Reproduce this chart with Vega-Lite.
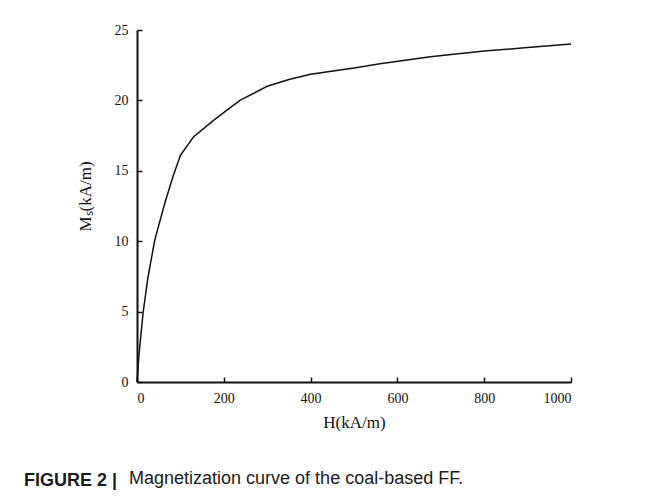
{
  "$schema": "https://vega.github.io/schema/vega-lite/v6.json",
  "autosize": {"type": "none"},
  "width": 434,
  "height": 352,
  "padding": {"left": 137, "top": 30, "right": 80, "bottom": 116},
  "background": "white",
  "title": {
    "text": "FIGURE 2 |",
    "subtitle": "\u200b\u00a0\u00a0\u00a0\u00a0\u00a0\u00a0\u00a0\u00a0\u00a0\u00a0\u00a0\u00a0\u00a0\u00a0\u00a0\u00a0\u00a0\u00a0\u00a0\u00a0\u00a0Magnetization curve of the coal-based FF.",
    "orient": "bottom",
    "anchor": "start",
    "frame": "group",
    "dx": -113,
    "offset": 42,
    "font": "Liberation Sans",
    "fontSize": 18,
    "fontWeight": "bold",
    "color": "#1a1a1a",
    "subtitleFont": "Liberation Sans",
    "subtitleFontSize": 18,
    "subtitleFontWeight": "normal",
    "subtitleColor": "#1a1a1a",
    "subtitlePadding": -20
  },
  "config": {
    "view": {"stroke": null},
    "axis": {
      "grid": false,
      "domainColor": "#111",
      "domainWidth": 2,
      "tickColor": "#111",
      "tickWidth": 1.5,
      "tickSize": -5,
      "labelFont": "Liberation Serif",
      "labelFontSize": 14,
      "labelColor": "#111",
      "titleFont": "Liberation Serif",
      "titleFontSize": 17,
      "titleFontWeight": "normal",
      "titleColor": "#111"
    }
  },
  "data": {
    "values": [
      {"H": 0, "M": 0},
      {"H": 3, "M": 1.3},
      {"H": 6, "M": 2.4},
      {"H": 14, "M": 4.9},
      {"H": 25, "M": 7.4},
      {"H": 41, "M": 10.1},
      {"H": 64, "M": 12.7},
      {"H": 83, "M": 14.6},
      {"H": 100, "M": 16.1},
      {"H": 130, "M": 17.4},
      {"H": 177, "M": 18.6},
      {"H": 237, "M": 20.0},
      {"H": 300, "M": 21.0},
      {"H": 352, "M": 21.5},
      {"H": 400, "M": 21.85},
      {"H": 500, "M": 22.3},
      {"H": 560, "M": 22.6},
      {"H": 676, "M": 23.1},
      {"H": 800, "M": 23.5},
      {"H": 900, "M": 23.75},
      {"H": 1000, "M": 24.0}
    ]
  },
  "mark": {"type": "line", "color": "#111", "strokeWidth": 1.5},
  "encoding": {
    "x": {
      "field": "H",
      "type": "quantitative",
      "scale": {"domain": [0, 1000], "nice": false},
      "axis": {"values": [0, 200, 400, 600, 800, 1000], "format": "d", "labelPadding": 14, "title": "H(kA/m)", "titlePadding": 9}
    },
    "y": {
      "field": "M",
      "type": "quantitative",
      "scale": {"domain": [0, 25], "nice": false},
      "axis": {"values": [0, 5, 10, 15, 20, 25], "labelPadding": 14, "title": "Mₛ(kA/m)", "titleX": -52, "titleY": 166, "titleBaseline": "middle", "titleAlign": "center", "titleAngle": 270}
    }
  }
}
